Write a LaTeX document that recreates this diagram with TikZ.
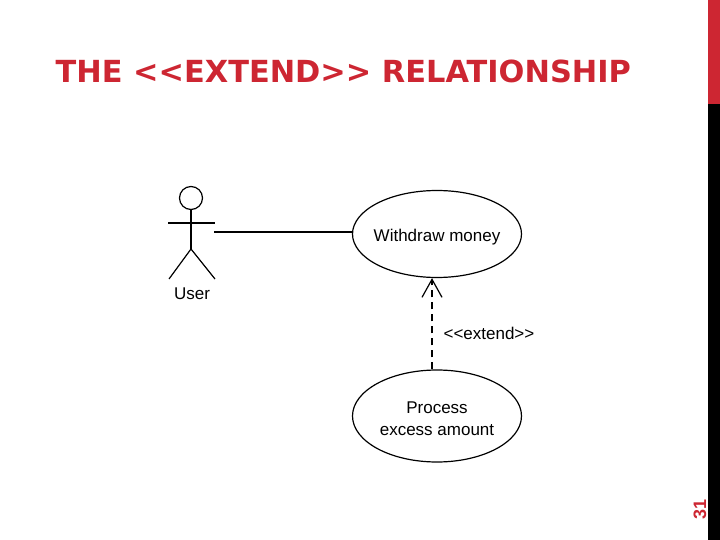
\documentclass[tikz,border=0pt]{standalone}
\usepackage{fontspec}
\setmainfont{Liberation Sans}
\newfontfamily\titlefont{DejaVu Sans}
\usepackage{xcolor}
\usepackage{tikz}
\usetikzlibrary{arrows.meta,positioning,shapes.geometric}

\definecolor{slidered}{RGB}{205,38,50}

\begin{document}
\begin{tikzpicture}[x=1pt,y=-1pt, line width=1.2pt,
  every node/.style={font=\fontsize{17}{22}\selectfont,inner sep=0pt},
  usecase/.style={draw,ellipse,minimum width=169pt}]
  \useasboundingbox (0,0) rectangle (720,540);
  % slide frame
  \fill[slidered] (708,0) rectangle (720,104);
  \fill[black] (708,104) rectangle (720,540);
  \node (title) [anchor=base west,text=slidered,font=\titlefont\bfseries\fontsize{30.4}{34}\selectfont] at (55,83) {THE <{}<EXTEND>{}> RELATIONSHIP};
  \node (num) [rotate=90,text=slidered,font=\bfseries\fontsize{18}{20}\selectfont] at (700,509) {31};
  % actor
  \node (head) [draw,circle,minimum size=23pt] at (191,198) {};
  \coordinate (hip) at (191,249);
  \draw (head.south) -- (hip);
  \draw (168,223) -- (215,223);
  \draw (169,279) -- (hip) -- (215,279);
  \node (user) at (192,294) {User};
  \coordinate (usr) at (214,232);
  % use cases
  \node (wd) [usecase,minimum height=87pt] at (437,234) {};
  \node (pe) [usecase,minimum height=92pt] at (437,416) {};
  \node (wdtxt) [yshift=-3pt] at (wd) {Withdraw money};
  \node (petxt) [yshift=-3pt,align=center] at (pe) {Process\\excess amount};
  \draw (usr) -- (wd.west |- usr);
  \draw[dash pattern=on 7pt off 5pt,-{Straight Barb[length=18pt,width=20pt]}] ([xshift=-5pt]pe.north) -- ([xshift=-5pt]wd.south);
  \node (ext) [anchor=west] at (443,333) {<{}<extend>{}>};
\end{tikzpicture}
\end{document}
